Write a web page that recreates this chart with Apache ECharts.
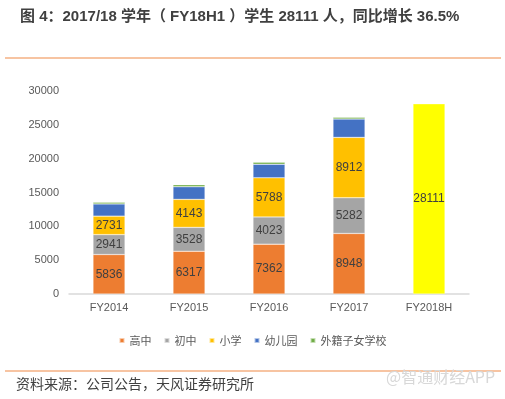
<!DOCTYPE html>
<html>
<head>
<meta charset="utf-8">
<script src="https://cdn.jsdelivr.net/npm/echarts@6/dist/echarts.min.js"></script>
<style>html,body{margin:0;padding:0;background:#fff}#c{width:505px;height:399px}</style>
</head>
<body>
<div id="c"></div>
<script>
const categories = ['FY2014', 'FY2015', 'FY2016', 'FY2017', 'FY2018H'];
const seniorHigh = [5836, 6317, 7362, 8948, null];
const juniorHigh = [2941, 3528, 4023, 5282, null];
const primary = [2731, 4143, 5788, 8912, null];
const kindergarten = [1800, 1860, 2000, 2720, null];
const foreignSchool = [250, 300, 300, 250, null];
const total2018H = [null, null, null, null, 28111];
const yTicks = [0, 5000, 10000, 15000, 20000, 25000, 30000];

const chart = echarts.init(document.getElementById('c'), null, {renderer: 'canvas'});
const font = '"Liberation Sans", "Noto Sans CJK SC", sans-serif';
const cjk = '"Noto Sans CJK SC", "Liberation Sans", sans-serif';
const inLabel = {show: true, position: 'inside', color: '#404040', fontSize: 12, fontFamily: font};
function s(name, data, color, label) {
  return {
    name: name, type: 'bar', stack: 'total', data: data, barWidth: '40%',
    itemStyle: {color: color, borderColor: 'rgba(255,255,255,0.6)', borderWidth: 0.5},
    label: label ? inLabel : {show: false}
  };
}
chart.setOption({
  animation: false,
  backgroundColor: '#fff',
  title: {
    text: '图 4：2017/18 学年（ FY18H1 ）学生 28111 人，同比增长 36.5%',
    left: 15, top: 4,
    textStyle: {fontSize: 15, fontWeight: 'bold', color: '#404040', fontFamily: font}
  },
  grid: {left: 69, right: 36, top: 91, bottom: 105},
  legend: {
    data: ['高中', '初中', '小学', '幼儿园', '外籍子女学校'],
    top: 330, left: 'center', itemWidth: 5, itemHeight: 5, itemGap: 12,
    icon: 'rect',
    textStyle: {fontSize: 11, color: '#595959', fontFamily: cjk}
  },
  xAxis: {
    type: 'category', data: categories,
    axisLine: {lineStyle: {color: '#d9d9d9', width: 1.5}},
    axisTick: {show: false},
    axisLabel: {color: '#595959', fontSize: 11, margin: 8, fontFamily: font}
  },
  yAxis: {
    type: 'value', min: yTicks[0], max: yTicks[yTicks.length - 1], interval: 5000,
    axisLine: {show: false}, axisTick: {show: false}, splitLine: {show: false},
    axisLabel: {color: '#595959', fontSize: 11, margin: 10, fontFamily: font, formatter: v => String(v)}
  },
  series: [
    s('高中', seniorHigh, '#ED7D31', true),
    s('初中', juniorHigh, '#A5A5A5', true),
    s('小学', primary, '#FFC000', true),
    s('幼儿园', kindergarten, '#4472C4', false),
    s('外籍子女学校', foreignSchool, '#70AD47', false),
    s('FY2018H', total2018H, '#FFFF00', true)
  ],
  graphic: [
    {type: 'line', shape: {x1: 5, y1: 58, x2: 501, y2: 58}, style: {stroke: '#F4B183', lineWidth: 1.5}},
    {type: 'line', shape: {x1: 5, y1: 371, x2: 501, y2: 371}, style: {stroke: '#F4B183', lineWidth: 1.5}},
    {type: 'text', left: 16, top: 377, style: {text: '资料来源：公司公告，天风证券研究所', fontSize: 14, fill: '#404040', fontFamily: cjk}},
    {type: 'text', left: 386, top: 369, style: {text: '@智通财经APP', fontSize: 16, fill: '#d8d8d8', fontFamily: cjk}}
  ]
});
</script>
</body>
</html>
